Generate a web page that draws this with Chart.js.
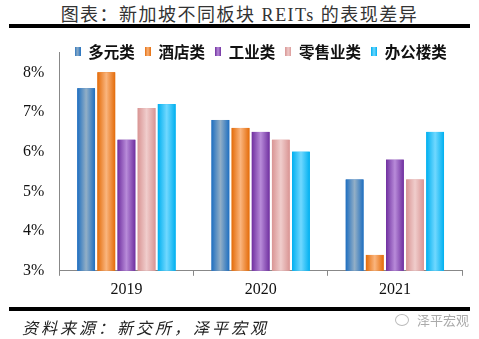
<!DOCTYPE html>
<html lang="zh">
<head>
<meta charset="UTF-8">
<title>新加坡不同板块 REITs 的表现差异</title>
<script src="https://cdn.jsdelivr.net/npm/chart.js"></script>
<style>
    body { margin: 0; background: #fff; }
    #wrap { position: relative; width: 479px; height: 339px; overflow: hidden; }
    #chart { position: absolute; left: 0; top: 0; }
    .title {
        position: absolute; left: 0; top: 0; width: 479px;
        text-align: center; color: #333;
        font: 18px "Liberation Serif", "Noto Sans CJK SC", serif;
        letter-spacing: 1.5px; white-space: nowrap;
    }
    .rule { position: absolute; left: 9px; width: 461px; height: 4px; background: #000; }
    .rule.top { top: 24px; }
    .rule.bottom { top: 307px; }
    .source {
        position: absolute; left: 22px; top: 315px; color: #222;
        font: italic 16px "Noto Sans CJK SC", sans-serif;
        letter-spacing: 3px; white-space: nowrap;
    }
    .mark {
        position: absolute; left: 395px; top: 310px; color: #aaa;
        font: 13px "Noto Sans CJK SC", sans-serif; white-space: nowrap;
    }
    .mark .icon {
        display: inline-block; width: 12px; height: 10px; margin-right: 8px;
        border: 1px solid #bbb; border-radius: 50%; vertical-align: -1px;
    }
</style>
</head>
<body>
<div id="wrap">
    <div class="title">图表：新加坡不同板块 REITs 的表现差异</div>
    <div class="rule top"></div>
    <canvas id="chart" width="479" height="339"></canvas>
    <div class="rule bottom"></div>
    <div class="source">资料来源：新交所，泽平宏观</div>
    <div class="mark"><span class="icon"></span>泽平宏观</div>
</div>

<script>
    // 年份与各板块收益率（%）
    const years = ['2019', '2020', '2021'];
    const diversified = [7.6, 6.8, 5.3];   // 多元类
    const hotel       = [8.0, 6.6, 3.4];   // 酒店类
    const industrial  = [6.3, 6.5, 5.8];   // 工业类
    const retail      = [7.1, 6.3, 5.3];   // 零售业类
    const office      = [7.2, 6.0, 6.5];   // 办公楼类

    // 每个系列的渐变：边缘色、中间亮色
    const shades = [
        ['#1f6fc0', '#93afc6'],
        ['#e46c0a', '#fab57e'],
        ['#7030a0', '#b88bd9'],
        ['#d99594', '#f0cdcc'],
        ['#00b0f0', '#70d8ff']
    ];

    function fillGradient(g, pair) {
        g.addColorStop(0, pair[0]);
        g.addColorStop(0.5, pair[1]);
        g.addColorStop(1, pair[0]);
        return g;
    }

    // 图例用的小方块
    function legendSwatch(pair) {
        const c = document.createElement('canvas');
        c.width = 6; c.height = 9;
        const x = c.getContext('2d');
        x.fillStyle = fillGradient(x.createLinearGradient(0, 0, 6, 0), pair);
        x.fillRect(0, 0, 6, 9);
        return c;
    }

    // 柱子画完后覆盖一层横向渐变
    const barShading = {
        id: 'barShading',
        afterDatasetsDraw(chart) {
            const ctx = chart.ctx;
            chart.data.datasets.forEach((ds, i) => {
                const meta = chart.getDatasetMeta(i);
                if (meta.hidden) return;
                meta.data.forEach(el => {
                    const p = el.getProps(['x', 'y', 'base', 'width'], true);
                    const left = p.x - p.width / 2;
                    ctx.save();
                    ctx.fillStyle = fillGradient(ctx.createLinearGradient(left, 0, left + p.width, 0), shades[i]);
                    ctx.fillRect(left, p.y, p.width, p.base - p.y);
                    ctx.restore();
                });
            });
        }
    };

    // 图例挪到绘图区上方居中，并与坐标轴顶端重叠
    const legendShift = {
        id: 'legendShift',
        afterLayout(chart) {
            const lg = chart.legend;
            const area = chart.chartArea;
            const dx = (area.left + area.right) / 2 - (lg.left + lg.right) / 2;
            lg.left += dx; lg.right += dx;
            lg.top += 17; lg.bottom += 17;
        }
    };

    const names = ['多元类', '酒店类', '工业类', '零售业类', '办公楼类'];
    const series = [diversified, hotel, industrial, retail, office];

    new Chart(document.getElementById('chart'), {
        type: 'bar',
        data: {
            labels: years,
            datasets: series.map((vals, i) => ({
                label: names[i],
                data: vals,
                base: 3,
                backgroundColor: shades[i][0],
                pointStyle: legendSwatch(shades[i]),
                categoryPercentage: 0.75,
                barPercentage: 0.88
            }))
        },
        options: {
            responsive: false,
            devicePixelRatio: 1,
            animation: false,
            layout: { padding: { left: 16, right: 17, top: 17, bottom: 36 } },
            plugins: {
                tooltip: { enabled: false },
                legend: {
                    labels: {
                        usePointStyle: true,
                        pointStyleWidth: 6,
                        boxHeight: 9,
                        padding: 10,
                        color: '#111',
                        font: { family: '"Noto Sans CJK SC", sans-serif', size: 15.5, weight: 'bold' }
                    }
                }
            },
            scales: {
                x: {
                    grid: { drawOnChartArea: false, tickLength: 5, color: '#888' },
                    border: { color: '#888' },
                    ticks: { color: '#111', padding: 4, font: { family: '"Liberation Serif", serif', size: 16 } }
                },
                y: {
                    min: 3,
                    max: 8.5,
                    grid: { display: false },
                    border: { color: '#888' },
                    ticks: {
                        stepSize: 1,
                        includeBounds: false,
                        padding: 7,
                        color: '#111',
                        font: { family: '"Liberation Serif", serif', size: 16 },
                        callback: v => v + '%'
                    }
                }
            }
        },
        plugins: [barShading, legendShift]
    });
</script>
</body>
</html>
